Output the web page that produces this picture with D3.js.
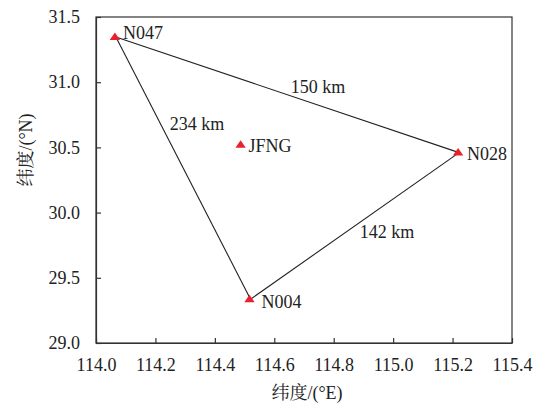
<!DOCTYPE html>
<html><head><meta charset="utf-8">
<script src="https://cdn.jsdelivr.net/npm/d3@7"></script>
<style>body{margin:0;background:#fff}</style>
</head><body>
<script>
const stations = ["N047", "N028", "N004", "JFNG"];
const lons = [114.067, 115.222, 114.52, 114.49];
const lats = [31.347, 30.46, 29.336, 30.52];
const edges = [["N047","N028"],["N028","N004"],["N004","N047"]];
const edgeLabels = ["150 km", "142 km", "234 km"];
const xTicks = [114.0,114.2,114.4,114.6,114.8,115.0,115.2,115.4];
const yTicks = [29.0,29.5,30.0,30.5,31.0,31.5];

const W=540,H=405, L=96,R=512,T=17,B=343;
const svg=d3.select("body").append("svg").attr("width",W).attr("height",H);
const x=d3.scaleLinear().domain([114.0,115.4]).range([L,R]);
const y=d3.scaleLinear().domain([29.0,31.5]).range([B,T]);
const axisColor="#333";
const fs=18;
const serif="Liberation Serif";
const cjk="Liberation Serif, Noto Serif CJK SC";

const xa=svg.append("g").attr("transform",`translate(0,${B})`)
  .call(d3.axisBottom(x).tickValues(xTicks).tickFormat(d3.format(".1f")).tickSizeInner(-5).tickSizeOuter(0).tickPadding(15));
const ya=svg.append("g").attr("transform",`translate(${L},0)`)
  .call(d3.axisLeft(y).tickValues(yTicks).tickFormat(d3.format(".1f")).tickSizeInner(-5).tickSizeOuter(0).tickPadding(16));
[xa,ya].forEach(g=>{
  g.attr("font-family",serif).attr("font-size",fs);
  g.selectAll("text").attr("font-family",serif).attr("font-size",fs).attr("fill","#222");
  g.selectAll("line,path").attr("stroke",axisColor).attr("stroke-width",1.2);
});
svg.append("rect").attr("x",L).attr("y",T).attr("width",R-L).attr("height",B-T)
  .attr("fill","none").attr("stroke",axisColor).attr("stroke-width",1.2);

const idx=n=>stations.indexOf(n);
const g=svg.append("g");
edges.forEach(([a,b])=>{
  g.append("line").attr("x1",x(lons[idx(a)])).attr("y1",y(lats[idx(a)]))
   .attr("x2",x(lons[idx(b)])).attr("y2",y(lats[idx(b)]))
   .attr("stroke","#222").attr("stroke-width",1.1);
});
const labelPos=[[318,87],[387,232],[197,124]];
edgeLabels.forEach((t,i)=>{
  svg.append("text").attr("x",labelPos[i][0]).attr("y",labelPos[i][1]).attr("dy","0.35em")
   .attr("text-anchor","middle").attr("font-family",serif).attr("font-size",fs).attr("fill","#222").text(t);
});
const flatTri={draw(ctx){ctx.moveTo(0,-4.5);ctx.lineTo(5.2,3);ctx.lineTo(-5.2,3);ctx.closePath();}};
const tri=d3.symbol().type(flatTri);
stations.forEach((s,i)=>{
  svg.append("path").attr("d",tri()).attr("transform",`translate(${x(lons[i])-1},${y(lats[i])})`).attr("fill","#e8212b");
});
const off={N047:[7,-4],N028:[8,1],N004:[11,3],JFNG:[7,1]};
stations.forEach((s,i)=>{
  svg.append("text").attr("x",x(lons[i])+off[s][0]).attr("y",y(lats[i])+off[s][1]).attr("dy","0.35em")
   .attr("font-family",serif).attr("font-size",fs).attr("fill","#222").text(s);
});
svg.append("text").attr("x",307).attr("y",399).attr("text-anchor","middle")
  .attr("font-family",cjk).attr("font-size",fs).attr("fill","#222").text("纬度/(°E)");
svg.append("text").attr("transform",`translate(32,150) rotate(-90)`).attr("text-anchor","middle")
  .attr("font-family",cjk).attr("font-size",fs).attr("fill","#222").text("纬度/(°N)");
</script>
</body></html>
